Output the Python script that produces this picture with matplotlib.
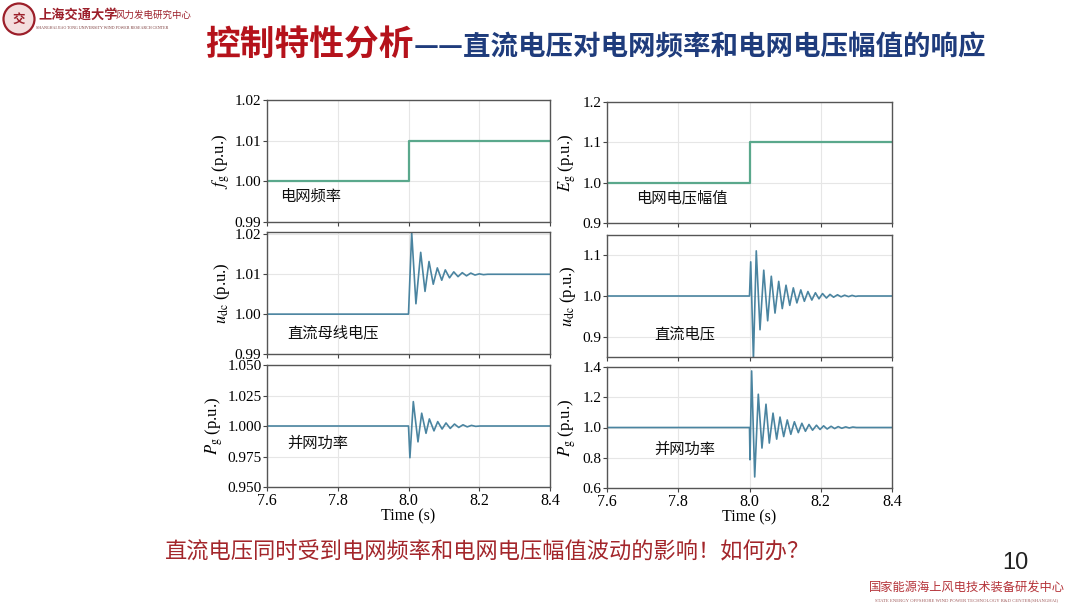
import matplotlib
matplotlib.use("Agg")
import matplotlib.pyplot as plt
from matplotlib.patches import Circle

plt.rcParams["font.family"] = ["Noto Sans CJK SC", "DejaVu Sans"]
plt.rcParams["mathtext.fontset"] = "stix"

SERIF = ["Liberation Serif", "DejaVu Serif"]
CJK = ["Noto Sans CJK SC", "DejaVu Sans"]

# ---- data ----
step_t = [7.6, 8.0, 8.4]
freq_vals = [1.00, 1.01, 1.01]
amp_vals = [1.0, 1.1, 1.1]

# left column: response to grid frequency step
udc_f_t = [7.6, 8.0, 8.009, 8.021, 8.0345, 8.0467, 8.058, 8.070, 8.0815, 8.094,
           8.104, 8.116, 8.128, 8.140, 8.152, 8.164, 8.176, 8.188, 8.200, 8.212,
           8.224, 8.236, 8.4]
udc_f_v = [1.000, 1.000, 1.0205, 1.0026, 1.0155, 1.0057, 1.0132, 1.0075, 1.0116, 1.0085,
           1.0111, 1.0091, 1.0106, 1.0094, 1.0104, 1.0096, 1.0103, 1.0098, 1.0101, 1.0099,
           1.0100, 1.0100, 1.0100]

pg_f_t = [7.6, 8.0, 8.004, 8.0136, 8.0268, 8.0373, 8.0495, 8.059, 8.072, 8.0826,
          8.095, 8.106, 8.118, 8.130, 8.142, 8.154, 8.166, 8.178, 8.190, 8.202, 8.4]
pg_f_v = [1.0, 1.0, 0.974, 1.020, 0.987, 1.0105, 0.994, 1.0058, 0.996, 1.0036,
          0.9975, 1.0025, 0.998, 1.0016, 0.9988, 1.001, 0.9993, 1.0005, 0.9997, 1.0, 1.0]

# right column: response to grid voltage amplitude step
udc_e_t = [7.6, 8.0, 8.0034, 8.011, 8.019, 8.0295, 8.040, 8.051, 8.0612, 8.0716,
           8.082, 8.092, 8.1025, 8.113, 8.123, 8.133, 8.144, 8.154, 8.164, 8.175,
           8.185, 8.195, 8.205, 8.216, 8.226, 8.236, 8.247, 8.257, 8.267, 8.278,
           8.288, 8.298, 8.305, 8.4]
udc_e_v = [1.0, 1.0, 1.084, 0.845, 1.111, 0.917, 1.0635, 0.939, 1.0486, 0.958,
           1.036, 0.969, 1.0265, 0.977, 1.020, 0.983, 1.015, 0.987, 1.011, 0.990,
           1.008, 0.993, 1.006, 0.995, 1.004, 0.997, 1.003, 0.998, 1.002, 0.9985,
           1.0015, 0.999, 1.0, 1.0]

pg_e_t = [7.6, 8.0, 8.0014, 8.006, 8.0146, 8.0247, 8.035, 8.0463, 8.0556, 8.066,
          8.0763, 8.0856, 8.096, 8.106, 8.116, 8.126, 8.137, 8.147, 8.157, 8.167,
          8.177, 8.188, 8.198, 8.208, 8.218, 8.229, 8.239, 8.249, 8.259, 8.270,
          8.280, 8.290, 8.300, 8.4]
pg_e_v = [1.0, 1.0, 0.787, 1.374, 0.673, 1.22, 0.864, 1.154, 0.897, 1.095,
          0.923, 1.069, 0.94, 1.05, 0.955, 1.038, 0.966, 1.028, 0.975, 1.02,
          0.982, 1.015, 0.987, 1.011, 0.99, 1.008, 0.993, 1.006, 0.995, 1.004,
          0.997, 1.003, 1.0, 1.0]

x_ticks = [7.6, 7.8, 8.0, 8.2, 8.4]
x_ticklabels = ["7.6", "7.8", "8.0", "8.2", "8.4"]

STEP_COLOR = "#5aa88c"
WAVE_COLOR = "#4a84a0"

fig = plt.figure(figsize=(10.8, 6.08), dpi=100)
fig.patch.set_facecolor("white")


def px_rect(x0, x1, y0, y1):
    W, H = 1080, 608
    return [x0 / W, (H - y1) / H, (x1 - x0) / W, (y1 - y0) / H]


panels = [
    # rect, t, v, color, steps, ylim, yticks, fmt, ylabel, label text, label pos, ylabel x
    (px_rect(267, 550, 100, 222), step_t, freq_vals, STEP_COLOR, True, (0.99, 1.02),
     [0.99, 1.00, 1.01, 1.02], "{:.2f}", r"$f_{\rm g}$ (p.u.)", "电网频率", (7.637, 0.9964), -0.125),
    (px_rect(267, 550, 232, 354), udc_f_t, udc_f_v, WAVE_COLOR, False, (0.99, 1.0206),
     [0.99, 1.00, 1.01, 1.02], "{:.2f}", r"$u_{\rm dc}$ (p.u.)", "直流母线电压", (7.657, 0.9952), -0.125),
    (px_rect(267, 550, 365, 487), pg_f_t, pg_f_v, WAVE_COLOR, False, (0.95, 1.05),
     [0.95, 0.975, 1.0, 1.025, 1.05], "{:.3f}", r"$P_{\rm g}$ (p.u.)", "并网功率", (7.657, 0.986), -0.15),
    (px_rect(607, 892, 102, 223), step_t, amp_vals, STEP_COLOR, True, (0.9, 1.2),
     [0.9, 1.0, 1.1, 1.2], "{:.1f}", r"$E_{\rm g}$ (p.u.)", "电网电压幅值", (7.681, 0.962), -0.10),
    (px_rect(607, 892, 235, 357), udc_e_t, udc_e_v, WAVE_COLOR, False, (0.85, 1.15),
     [0.9, 1.0, 1.1], "{:.1f}", r"$u_{\rm dc}$ (p.u.)", "直流电压", (7.732, 0.908), -0.10),
    (px_rect(607, 892, 367, 488), pg_e_t, pg_e_v, WAVE_COLOR, False, (0.6, 1.4),
     [0.6, 0.8, 1.0, 1.2, 1.4], "{:.1f}", r"$P_{\rm g}$ (p.u.)", "并网功率", (7.732, 0.853), -0.10),
]

for i, (rect, t, v, color, steps, ylim, yticks, fmt, ylab, txt, tpos, labx) in enumerate(panels):
    ax = fig.add_axes(rect)
    if steps:
        ax.plot(t, v, color=color, lw=1.6, drawstyle="steps-post")
    else:
        ax.plot(t, v, color=color, lw=1.2)
    ax.set_xlim(7.6, 8.4)
    ax.set_ylim(*ylim)
    ax.set_xticks(x_ticks)
    ax.set_yticks(yticks)
    ax.set_yticklabels([fmt.format(y) for y in yticks], family=SERIF, fontsize=11)
    if i in (2, 5):
        ax.set_xticklabels(x_ticklabels, family=SERIF, fontsize=11.5)
        ax.set_xlabel("Time (s)", family=SERIF, fontsize=11.5, labelpad=0)
    else:
        ax.set_xticklabels([])
    ax.grid(True, color="#e6e6e6", lw=0.8)
    ax.set_axisbelow(True)
    ax.tick_params(direction="out", length=3, width=0.8, color="#444444", pad=1)
    for s in ax.spines.values():
        s.set_color("#555555")
        s.set_linewidth(1.0)
    ax.set_ylabel(ylab, family=SERIF, fontsize=12)
    ax.yaxis.set_label_coords(labx, 0.5)
    ax.text(tpos[0], tpos[1], txt, family=CJK, fontsize=11, va="center", ha="left", color="#111111")

# ---- slide decorations ----
fig.text(205 / 1080, 1 - 45 / 608, "控制特性分析", family=CJK, fontsize=25, fontweight="bold",
         color="#b5121b", va="center", ha="left")
fig.text(414 / 1080, 1 - 47 / 608, "——直流电压对电网频率和电网电压幅值的响应", family=CJK, fontsize=19.8,
         fontweight="bold", color="#1f3c7c", va="center", ha="left")

fig.text(165 / 1080, 1 - 552 / 608, "直流电压同时受到电网频率和电网电压幅值波动的影响！如何办？",
         family=CJK, fontsize=16, color="#a3262b", va="center", ha="left")
fig.text(1015 / 1080, 1 - 563 / 608, "10", family=["Liberation Sans Narrow", "Liberation Sans", "DejaVu Sans"],
         fontsize=17, color="#222222", va="center", ha="center")
fig.text(967 / 1080, 1 - 588 / 608, "国家能源海上风电技术装备研发中心", family=CJK, fontsize=8.8,
         color="#b5343a", va="center", ha="center")
fig.text(967 / 1080, 1 - 600 / 608, "STATE ENERGY OFFSHORE WIND POWER TECHNOLOGY R&D CENTER(SHANGHAI)",
         family=SERIF, fontsize=3.4, color="#a05a5a", va="center", ha="center")

# logo
seal = Circle((0.19, 6.08 - 0.19), 0.155, transform=fig.dpi_scale_trans,
              facecolor="#f4dede", edgecolor="#9c1f2a", lw=1.6)
fig.add_artist(seal)
fig.text(0.19 / 10.8, 1 - 0.19 / 6.08, "交", family=CJK, fontsize=9, fontweight="bold",
         color="#9c1f2a", va="center", ha="center")
fig.text(38 / 1080, 1 - 15 / 608, "上海交通大学", family=CJK, fontsize=9.5, fontweight="bold",
         color="#9c1f2a", va="center", ha="left", style="italic")
fig.text(116 / 1080, 1 - 15 / 608, "风力发电研究中心", family=CJK, fontsize=6.8,
         color="#9c1f2a", va="center", ha="left")
fig.text(36 / 1080, 1 - 28 / 608, "SHANGHAI JIAO TONG UNIVERSITY WIND POWER RESEARCH CENTER",
         family=SERIF, fontsize=2.9, color="#7a3a3a", va="center", ha="left")

fig.savefig("out.png", dpi=100)
